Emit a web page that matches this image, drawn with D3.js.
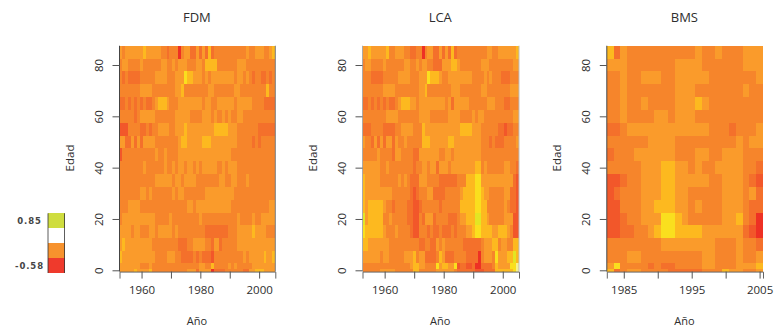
<!DOCTYPE html>
<html>
<head>
<meta charset="utf-8">
<script src="https://cdn.jsdelivr.net/npm/d3@7"></script>
<style>
  body { margin: 0; background: #fff; }
  text { font-family: "Open Sans", sans-serif; fill: #2e2e2e; }
</style>
</head>
<body>
<div id="chart"></div>
<script>
// age groups of the rows, top row first
const ages = [85,80,75,70,65,60,55,50,45,40,35,30,25,20,15,10,5,1,0];
const yearsLong = d3.range(1953, 2006);
const yearsShort = d3.range(1983, 2006);

// colour class of each cell: "L*n" means class L for n years running
const levelColors = ["#ee3124","#f2572a","#f4702b","#f6852b","#fa9b2b","#fdb91f","#fadf1e","#e3e524","#f6f08c"];

const fdmRows = [
"4 3 4*6 5 4*5 3*2 2 3*3 0 3 4*2 2*2 4 2 4 2 5 2 3*11 4 3*2 4*3 3*2 4 5",
"3 4*2 3*4 4 3*6 4*2 3*2 4 3 4*3 3*3 4*2 3 5*4 3*7 4*3 3*10",
"3 2 3 2*4 3*5 4*4 3*3 4*3 6 5*2 4*3 3 4 3 4*8 3 4*2 3 4 3 2 3*2 2*2 3 2 3",
"3*7 4*4 3*8 4*2 5 3*8 4*2 3*7 4*2 3*9 5 3*2",
"2*2 3 2 3 2 3 2 3 2*2 3 4 5*3 4 3*3 4*8 3 4*2 3*2 4*6 3 4*5 3*4 2*4",
"3*5 2 3 4*5 3*7 4*5 3*4 4*3 3 4 3*2 4 3 4 3*2 4*2 3*11",
"1*3 3*4 2*2 3 2 3*2 4*4 3*2 4*3 5 4*9 5*5 4*3 3*7 2*6",
"4*2 2*2 4 2 4 2 4*4 3*8 4 5*2 4*5 5*3 4*9 3*5 2 3 2 3*5",
"1 3*11 4 3 3 4 3*4 4*18 3*15",
"3*8 4 3*6 4 3*2 4 3 4*2 3 4*2 3 4 3 4*5 3*2 4 3 4*3 3*13",
"3*12 4*6 3 4*2 3 4*4 3*8 4*2 3*2 4*2 3*3 4 3*9",
"3*7 4*2 3 4 3*7 4 3 4*2 3*7 4*10 3*14",
"3*3 4*4 3*16 4*2 3 4*12 3*13 4*2",
"3 4*11 3*5 4 3*9 4 3*12 4 3*4 4 3*2 4*5",
"4*4 3 4*2 3*3 4*2 3 4*5 3 4 3*9 2*8 3*3 4*5 5 4*4 3*3",
"4 5 4*9 3*9 2*3 3*2 4*4 3*2 2 4*2 2 3*5 4*13",
"5 4*11 3*4 4*3 3*2 2*4 3 2 3 2*3 1 3*10 4 3 4*5 5 4*2 5",
"4*7 3*3 4 3*16 4*2 3*2 5 3*5 4 3 4 3*5 4*8",
"4*5 5 4*4 5 3*12 4*3 2 4*4 0 2*4 3*6 2*2 4*2 5*3 4*4"
];

const lcaRows = [
"4*2 5 4*5 5 3*2 4*3 3*2 2*2 3*2 0 3 4*2 2*2 4 2 4 2 5 2 3*10 4*2 3*2 4*6 5",
"3 4*2 3*4 4 3*6 4*2 3*2 4 3 4*2 3*2 2*3 4*3 5*2 4 3*7 4*3 3*8 4*2",
"3*3 2*4 3*5 4*4 3*3 4*3 6 5*3 4 3*2 4*8 3*4 4 3 4 3*3 2*3 3*3",
"3*7 4*4 3*8 4*2 5 3*8 4*3 3*7 4*2 3*8 4*3",
"2*2 3 2 3 2 3 2 3 2*2 3 4 5*3 4*2 3 4*9 3 4 2 4*5 3*6 4*3 3*3 2*2 3*3",
"3*8 4*4 3*7 4*4 3*6 4*4 3*4 4 3 4*2 3*10 4*2",
"2*3 3*4 2*4 3*2 4*4 3*3 5 4*12 5*4 4*3 3*6 2*2 1 2*2 3*2",
"4 3*2 2 4 2 4 2 4*2 2 4 3*2 4 3*5 5*3 4*6 5*2 4*9 3*3 2 3 2*3 3*4 4",
"3*5 4 3*4 2 4*2 3*4 2*2 4*7 3*2 4*2 3 4*9 3*13",
"4*6 3*2 4 3*8 2 3*2 4*2 3 4*2 2 4*3 3 4*8 5*2 3 4 3*6 4*2 3*2 2",
"5 4*5 3*6 4 3 4 3 2*3 4*3 3*4 2*6 3*3 5*3 6*2 4*11 2 1",
"5 4*9 3*6 2 1 2 3*3 4*2 2*4 3*5 4 5*4 6*2 5 4*2 3*5 4*2 2*2 1",
"5 4 5*5 4 3*2 2 3*4 2*2 1*2 2 3*6 2 3*6 5*5 6*2 5*2 3*6 4 3 2*2 1",
"7 4 5*5 3*2 4 3*5 2*2 1*2 3 2 4*3 2 3*4 2*3 3 4*2 5*3 7*2 5*2 4 3*5 4*3 1*2",
"6 5*6 4 3*3 4 3*4 2 1*2 3*3 2 3 2*2 3 2*3 3 2 3*3 4*2 5 6*2 5*4 4*2 5*3 4 3 1*2",
"5*2 4*7 3*10 2*2 3*2 2*2 4 3 4 3*6 2*6 3 4*3 5*2 3 4*2 3*2 5*2",
"4*6 3 4*2 3*5 4*3 5 3 4*2 2*4 3 5 4 2*3 3*4 2*4 0 3 4*3 3 6 4*3 5*2 7 5",
"3*16 4 5*2 4*2 3*4 6 4 5*2 4*2 6 1 2*2 1*2 2 0*2 2*4 3 5 4*4 6*2 8",
"3*6 4*5 3*6 5*2 3*6 4*6 3 2*6 1*3 2*4 5*6 6 8"
];

const bmsRows = [
"5 2 4 3*10 4 3*2 4 3*3 4*3",
"4*3 3*7 4*4 3*6 4*3",
"3*2 4 3*2 4*3 3*2 4*5 3*7 4",
"3*2 4 3*7 4*3 3*7 4 3*2",
"3*2 4 3*2 4 3*4 4*3 5 4 3*8",
"3*2 4 3*4 4*2 3 4*3 3*10",
"2*2 3 4*12 3*3 2 3*3 4",
"3*6 4*4 3*9 4 3 4*2",
"2 3*3 4*6 3*3 4*2 3*2 4*3 3*3",
"3*5 4*3 5*2 4*2 3 4 3*2 4*4 3*2 2",
"1*2 2 3*2 4*3 5*2 4*5 3*2 4*3 3 2 1",
"1 2 3*3 4*3 5*2 4*2 3*5 4*3 3 4 2",
"1*2 3*3 4*2 5*3 4*2 3 4 3*3 4*3 3 2*2",
"1*2 2 3*2 4*3 6*2 5 4 3*5 4*2 5 3 2 0",
"1*2 2*2 3*2 4 5 6*2 5*4 4*6 2 1 0",
"3*8 4*8 3*3 4 3*2 2",
"3*3 4*2 3*9 4*2 3*3 4 3*2 4",
"4 6 3*4 2 3 2*2 3*4 4*2 3*3 4*3 5",
"5 2 3 4*2 3*4 2*5 3*3 5 4*2 3*2 4"
];

const legendColors = ["#cfdd3f","#ffffff","#f7922d","#ef3a2c"];
const legendLabels = ["0.85","-0.58"];

const panels = [
  { title: "FDM", rows: fdmRows, years: yearsLong, left: 119.5, right: 275.3, ticks: d3.range(1960, 2001, 10), labelled: [1960,1980,2000], side: "#444", edge: "#777" },
  { title: "LCA", rows: lcaRows, years: yearsLong, left: 362.5, right: 519, ticks: d3.range(1960, 2001, 10), labelled: [1960,1980,2000], side: "#aaa", edge: "#bbb" },
  { title: "BMS", rows: bmsRows, years: yearsShort, left: 606.8, right: 763, ticks: d3.range(1985, 2006, 5), labelled: [1985,1995,2005], side: "#444", edge: null }
];

const svg = d3.select("#chart").append("svg")
    .attr("width", 774)
    .attr("height", 329)
    .style("display", "block");

const color = d3.scaleOrdinal(d3.range(levelColors.length), levelColors);
const y = d3.scaleLinear().domain([0, 80]).range([270.3, 65]);

function decode(row) {
    const out = [];
    row.split(" ").forEach(tok => {
        const [l, n] = tok.split("*");
        for (let i = 0; i < (n ? +n : 1); i++) out.push(+l);
    });
    return out;
}

// same edges as R image(): halfway between neighbouring ages
function ageEdges(i) {
    const a = ages[i];
    const upper = i === 0 ? a + 2.5 : (a + ages[i - 1]) / 2;
    const lower = i === ages.length - 1 ? a - 0.5 : (a + ages[i + 1]) / 2;
    return [lower, upper];
}

panels.forEach(p => {
    const x = d3.scaleLinear()
        .domain([p.years[0] - 0.5, p.years[p.years.length - 1] + 0.5])
        .range([p.left, p.right]);

    const cells = [];
    p.rows.forEach((row, i) => {
        const vals = decode(row);
        if (vals.length !== p.years.length) console.error(p.title, i, vals.length);
        const [lo, hi] = ageEdges(i);
        vals.forEach((v, j) => cells.push({ year: p.years[j], lo, hi, v }));
    });

    svg.append("g")
        .attr("shape-rendering", "crispEdges")
        .selectAll("rect")
        .data(cells)
        .enter()
        .append("rect")
        .attr("x", d => x(d.year - 0.5))
        .attr("y", d => y(d.hi))
        .attr("width", d => x(d.year + 0.5) - x(d.year - 0.5))
        .attr("height", d => y(d.lo) - y(d.hi))
        .attr("fill", d => color(d.v));

    // plot edges
    const top = y(87.5), bottom = y(-0.5);
    svg.append("line").attr("x1", p.left).attr("x2", p.left).attr("y1", top).attr("y2", bottom)
        .attr("stroke", p.side).attr("stroke-width", 1);
    if (p.edge) {
        svg.append("line").attr("x1", p.right).attr("x2", p.right).attr("y1", top).attr("y2", bottom)
            .attr("stroke", p.edge).attr("stroke-width", 1);
    }

    // x axis
    const xAxis = svg.append("g")
        .attr("transform", `translate(0,${bottom})`)
        .call(d3.axisBottom(x)
            .tickValues(p.ticks)
            .tickSize(7)
            .tickPadding(7)
            .tickFormat(d => p.labelled.includes(d) ? d : ""));
    xAxis.select(".domain").attr("stroke", "#666");
    xAxis.selectAll("line").attr("stroke", "#555");
    xAxis.selectAll("text").attr("font-size", 11.5).style("fill", "#2e2e2e");

    // y axis, labels turned like R does
    const yAxis = svg.append("g")
        .attr("transform", `translate(${p.left},0)`)
        .call(d3.axisLeft(y).tickValues([0,20,40,60,80]).tickSize(7).tickPadding(7));
    yAxis.select(".domain").remove();
    yAxis.selectAll("line").attr("stroke", "#555");
    yAxis.selectAll(".tick text")
        .attr("font-size", 11.5)
        .attr("text-anchor", "middle")
        .attr("dy", 0)
        .attr("x", -17)
        .attr("y", 0)
        .attr("transform", "rotate(-90,-17,0)");

    svg.append("text")
        .attr("x", (p.left + p.right) / 2 - 0.5)
        .attr("y", 22)
        .attr("text-anchor", "middle")
        .attr("font-size", 13)
        .text(p.title);

    svg.append("text")
        .attr("x", (p.left + p.right) / 2 - 0.5)
        .attr("y", 325)
        .attr("text-anchor", "middle")
        .attr("font-size", 11)
        .text("Año");

    svg.append("text")
        .attr("transform", `translate(${p.left - 46},158) rotate(-90)`)
        .attr("text-anchor", "middle")
        .attr("font-size", 11.5)
        .text("Edad");
});

// legend
const legendY = d3.scaleBand().domain(d3.range(legendColors.length)).range([213.3, 273]);
svg.append("g")
    .attr("shape-rendering", "crispEdges")
    .selectAll("rect")
    .data(legendColors)
    .enter()
    .append("rect")
    .attr("x", 48)
    .attr("y", (d, i) => legendY(i))
    .attr("width", 16.5)
    .attr("height", legendY.bandwidth())
    .attr("fill", d => d);
[48, 64.5].forEach(lx => {
    svg.append("line").attr("x1", lx).attr("x2", lx).attr("y1", 213.3).attr("y2", 273)
        .attr("stroke", "#333").attr("stroke-width", 0.8);
});
svg.selectAll(".legendLabel")
    .data(legendLabels)
    .enter()
    .append("text")
    .attr("class", "legendLabel")
    .attr("x", 29.5)
    .attr("y", (d, i) => legendY(i === 0 ? 0 : 3) + legendY.bandwidth() / 2 + 3)
    .attr("text-anchor", "middle")
    .attr("font-size", 8.5)
    .attr("letter-spacing", 0.9)
    .style("font-family", "DejaVu Sans")
    .style("font-weight", "bold")
    .style("fill", "#444")
    .text(d => d);
</script>
</body>
</html>
